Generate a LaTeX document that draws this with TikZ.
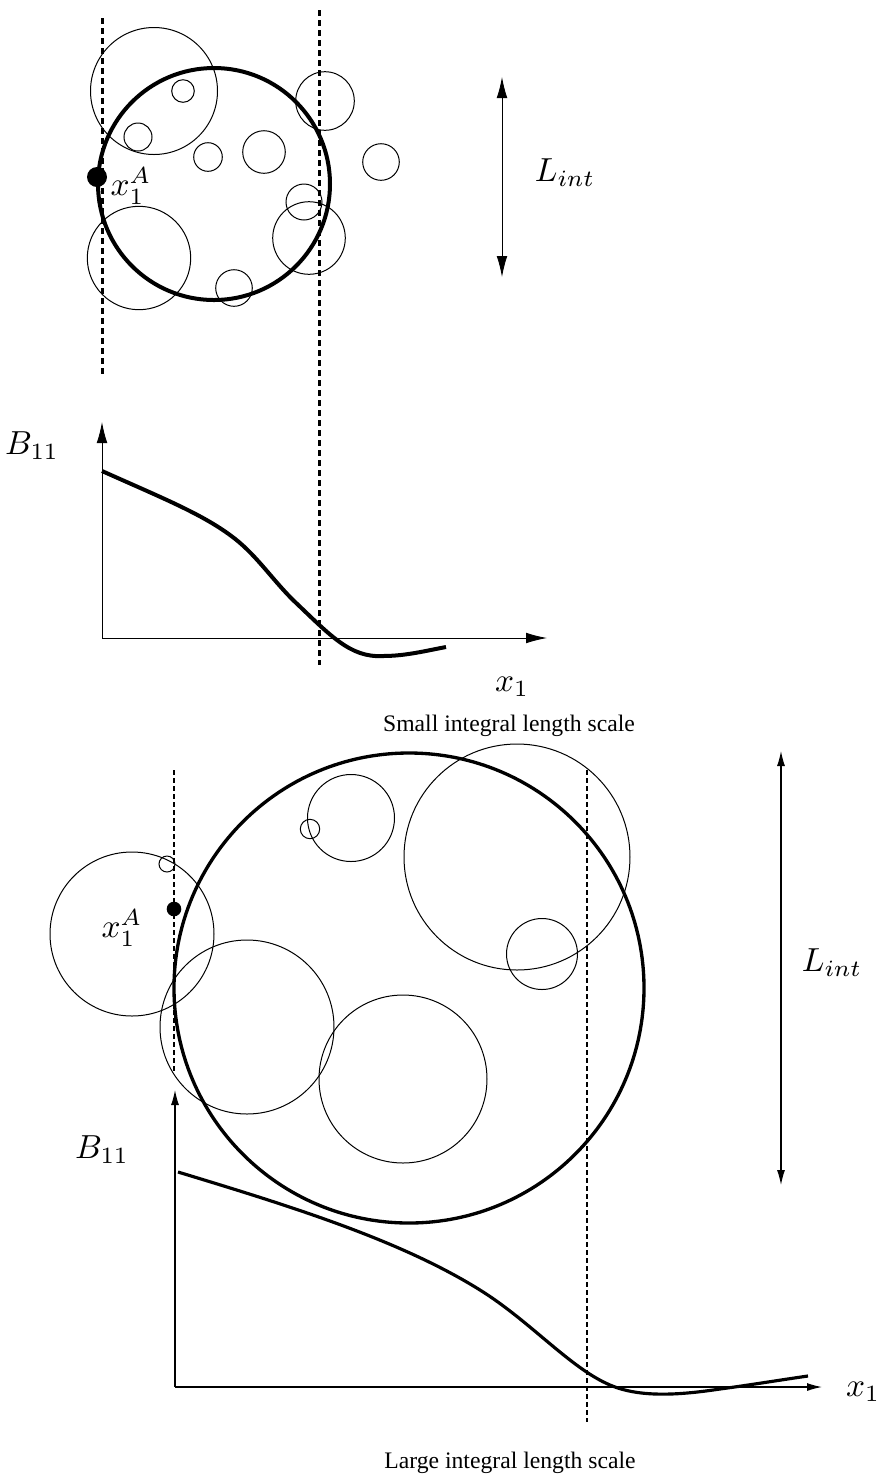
\documentclass[tikz,border=0pt]{standalone}
\usepackage{fontspec}
\setmainfont{Liberation Serif}
\usetikzlibrary{arrows.meta}

\begin{document}
\begin{tikzpicture}[
  x=0.3pt, y=-0.3pt,
  ball/.style={line width=0.3pt},
  bigball/.style={line width=1.2pt},
  cut/.style={line width=0.9pt, dash pattern=on 1.8pt off 1.2pt},
  axis/.style={line width=0.25pt, -{Latex[length=6.3pt,width=3.2pt]}},
  corr/.style={line width=1.2pt},
  lab/.style={inner sep=0pt},
  caption/.style={inner sep=0pt, font=\fontsize{7.1}{8.5}\selectfont},
  % bottom half is drawn thinner
  cutL/.style={line width=0.6pt, dash pattern=on 1.5pt off 0.9pt},
  axisL/.style={line width=0.35pt, -{Latex[length=4.5pt,width=2.4pt]}},
  corrL/.style={line width=0.95pt},
  bigballL/.style={line width=1pt}
]
\useasboundingbox (0,0) rectangle (879,1479);

% --- Haut : petite echelle integrale ---
\coordinate (cutA1) at (102,18);  \coordinate (cutA2) at (102,375);
\coordinate (cutB1) at (319,10);  \coordinate (cutB2) at (319,665);
\draw[cut] (cutA1) -- (cutA2);
\draw[cut] (cutB1) -- (cutB2);

\draw[ball] (154,91) circle (63.5);
\draw[ball] (183,91) circle (11.3);
\draw[ball] (138,137) circle (14);
\draw[ball] (208,157) circle (14.3);
\draw[ball] (264,152) circle (21.3);
\draw[ball] (325,101) circle (29.3);
\draw[ball] (381,162) circle (18.3);
\draw[ball] (304,202) circle (18);
\draw[ball] (309,238) circle (36.3);
\draw[ball] (139,258) circle (51.7);
\draw[ball] (234,288) circle (18.3);
\draw[bigball] (214,184) circle (116);

\fill (97,177) circle (10);
\node[lab] (xA1) at (131,186) {$x_1^A$};

\coordinate (Lup1) at (502,77); \coordinate (Ldn1) at (502,277);
\draw[line width=0.25pt, {Latex[length=6.3pt,width=3.2pt]}-{Latex[length=6.3pt,width=3.2pt]}] (Lup1) -- (Ldn1);
\node[lab] (Lint1) at (565,173) {$L_{int}$};

\coordinate (O1) at (102,638);
\coordinate (Y1) at (102,422);
\coordinate (X1) at (547,638);
\draw[axis] (O1) -- (Y1);
\draw[axis] (O1) -- (X1);
\node[lab] (B1) at (32,446) {$B_{11}$};
\node[lab] (x1a) at (512,687) {$x_1$};

\draw[corr] (102,471) .. controls (160,497) and (200,513) .. (230,535)
  .. controls (255,553) and (270,577) .. (293,600)
  .. controls (330,635) and (350,658) .. (383,656)
  .. controls (405,656) and (425,651) .. (446,647);

\node[caption] (cap1) at (509,726) {Small integral length scale};

% --- Bas : grande echelle integrale ---
\coordinate (cutC1) at (174,770); \coordinate (cutC2) at (174,1072);
\coordinate (cutD1) at (587,770); \coordinate (cutD2) at (587,1422);
\draw[cutL] (cutC1) -- (cutC2);
\draw[cutL] (cutD1) -- (cutD2);

\draw[ball] (132,934) circle (82);
\draw[ball] (167,864) circle (8);
\draw[ball] (351,818) circle (43.5);
\draw[ball] (310,829) circle (9.7);
\draw[ball] (247,1027) circle (87);
\draw[ball] (403,1079) circle (84);
\draw[ball] (517,857) circle (113);
\draw[ball] (542,954) circle (35.5);
\draw[bigballL] (409,988) circle (235);

\fill (174,909) circle (7.3);
\node[lab] (xA2) at (122,928) {$x_1^A$};

\coordinate (Lup2) at (781,751); \coordinate (Ldn2) at (781,1185);
\draw[line width=0.35pt, {Latex[length=4.5pt,width=2.4pt]}-{Latex[length=4.5pt,width=2.4pt]}] (Lup2) -- (Ldn2);
\node[lab] (Lint2) at (832,963) {$L_{int}$};

\coordinate (O2) at (175,1387);
\coordinate (Y2) at (175,1090);
\coordinate (X2) at (822,1387);
\draw[axisL] (O2) -- (Y2);
\draw[axisL] (O2) -- (X2);
\node[lab] (B2) at (102,1150) {$B_{11}$};
\node[lab] (x1b) at (863,1392) {$x_1$};

\draw[corrL] (178,1172) .. controls (290,1206) and (400,1240) .. (480,1290)
  .. controls (530,1321) and (570,1368) .. (610,1385)
  .. controls (640,1398) and (680,1395) .. (720,1389)
  .. controls (750,1385) and (780,1380) .. (808,1376);

\node[caption] (cap2) at (510,1463) {Large integral length scale};

\end{tikzpicture}
\end{document}
